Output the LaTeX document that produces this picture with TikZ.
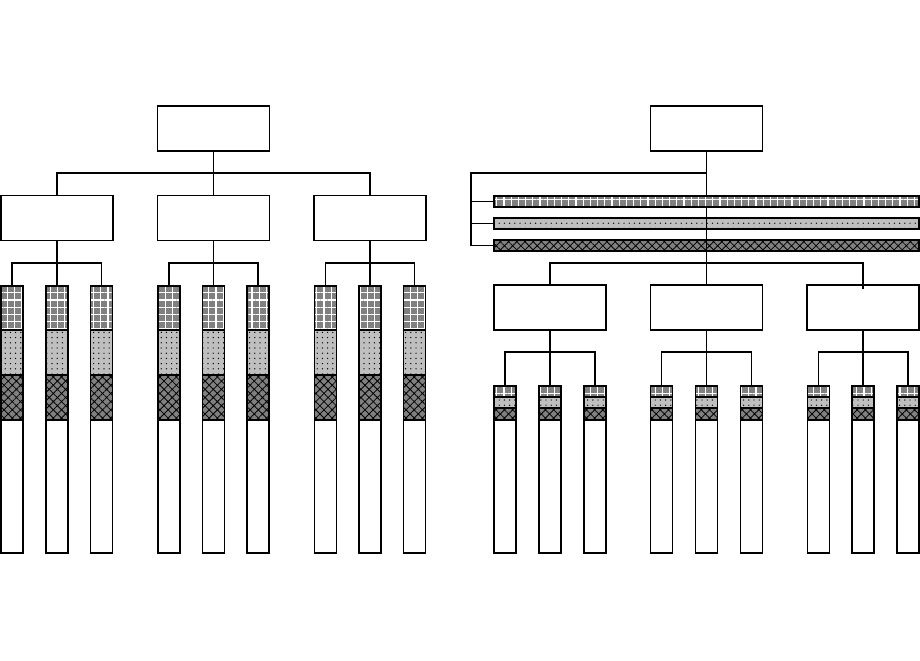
\documentclass[tikz,border=0pt]{standalone}
\usetikzlibrary{patterns.meta}
\newcommand\colL[2]{%
  \node[colshape, minimum height=133.5pt] (#2) at (#1,419.5) {};
  \path[gridfill] (#2.north west) rectangle ++(22,44);
  \path[dotfill] (#2.north west) ++(0,44) rectangle ++(22,45);
  \path[crossfill] (#2.north west) ++(0,89) rectangle ++(22,45);
  \draw (#2.north west) rectangle (#2.south east);
}
\newcommand\colR[2]{%
  \node[colshape, minimum height=83.5pt] (#2) at (#1,469.5) {};
  \path[gridfill] (#2.north west) rectangle ++(22,11);
  \path[dotfill] (#2.north west) ++(0,11) rectangle ++(22,11);
  \path[crossfill] (#2.north west) ++(0,22) rectangle ++(22,12);
  \draw (#2.north west) rectangle (#2.south east);
}
\begin{document}
\begin{tikzpicture}[x=0.5pt,y=-0.5pt,line width=0.6pt,
  box/.style={draw,rectangle,inner sep=0,outer sep=0,minimum width=56pt,minimum height=22.5pt},
  colshape/.style={rectangle,inner sep=0,outer sep=0,minimum width=11pt},
  barshape/.style={rectangle,inner sep=0,outer sep=0,minimum width=212.5pt,minimum height=5.5pt},
  gridfill/.style={preaction={fill=gray},pattern={Hatch[angle=0,distance=3.6pt,line width=0.6pt]},pattern color=white,draw=black},
  dotfill/.style={preaction={fill=lightgray},pattern={Dots[distance=2.6pt,radius=0.35pt]},pattern color=black,draw=black},
  crossfill/.style={preaction={fill=gray},pattern={Hatch[angle=45,distance=2.9pt,line width=0.4pt]},pattern color=black,draw=black}]
\useasboundingbox (0,0) rectangle (920,660);

% ---------- left tree ----------
\node[box] (rL) at (213.5,128.5) {};
\node[box] (aL1) at (57,218) {};
\node[box] (aL2) at (213.5,218) {};
\node[box] (aL3) at (370,218) {};
\coordinate (jL) at (213.5,173);
\draw (rL.south) -- (jL);
\draw (aL1.north) |- (jL) -| (aL3.north);
\draw (jL) -- (aL2.north);

\colL{12}{cL11}\colL{57}{cL12}\colL{101.5}{cL13}
\colL{169}{cL21}\colL{213.5}{cL22}\colL{258}{cL23}
\colL{325.5}{cL31}\colL{370}{cL32}\colL{414.5}{cL33}

\coordinate (kL1) at (57,263);
\coordinate (kL2) at (213.5,263);
\coordinate (kL3) at (370,263);
\draw (aL1.south) -- (kL1); \draw (cL11.north) |- (kL1) -| (cL13.north); \draw (kL1) -- (cL12.north);
\draw (aL2.south) -- (kL2); \draw (cL21.north) |- (kL2) -| (cL23.north); \draw (kL2) -- (cL22.north);
\draw (aL3.south) -- (kL3); \draw (cL31.north) |- (kL3) -| (cL33.north); \draw (kL3) -- (cL32.north);

% ---------- right tree ----------
\node[box] (rR) at (706.5,128.5) {};
\node[barshape] (b1) at (706.5,201.5) {};
\node[barshape] (b2) at (706.5,223.5) {};
\node[barshape] (b3) at (706.5,245.5) {};
\path[gridfill] (b1.north west) rectangle (b1.south east);
\path[dotfill] (b2.north west) rectangle (b2.south east);
\path[crossfill] (b3.north west) rectangle (b3.south east);

\coordinate (jR) at (706.5,173);
\coordinate (tR) at (471,245.5);
\draw (rR.south) -- (b1.north);
\draw (jR) -| (tR) -- (b3.west);
\draw (b1.west -| tR) -- (b1.west);
\draw (b2.west -| tR) -- (b2.west);

\node[box] (dR1) at (550,307.5) {};
\node[box] (dR2) at (706.5,307.5) {};
\node[box] (dR3) at (863,307.5) {};
\coordinate (kR) at (706.5,263);
\coordinate (oR) at (863,289);
\draw (b1.south) -- (kR);
\draw (dR1.north) |- (kR) -| (oR);
\draw (kR) -- (dR2.north);

\colR{505}{cR11}\colR{550}{cR12}\colR{595}{cR13}
\colR{661.5}{cR21}\colR{706.5}{cR22}\colR{751.5}{cR23}
\colR{818.5}{cR31}\colR{863}{cR32}\colR{908}{cR33}

\coordinate (mR1) at (550,352);
\coordinate (mR2) at (706.5,352);
\coordinate (mR3) at (863,352);
\draw (dR1.south) -- (mR1); \draw (cR11.north) |- (mR1) -| (cR13.north); \draw (mR1) -- (cR12.north);
\draw (dR2.south) -- (mR2); \draw (cR21.north) |- (mR2) -| (cR23.north); \draw (mR2) -- (cR22.north);
\draw (dR3.south) -- (mR3); \draw (cR31.north) |- (mR3) -| (cR33.north); \draw (mR3) -- (cR32.north);
\end{tikzpicture}
\end{document}
